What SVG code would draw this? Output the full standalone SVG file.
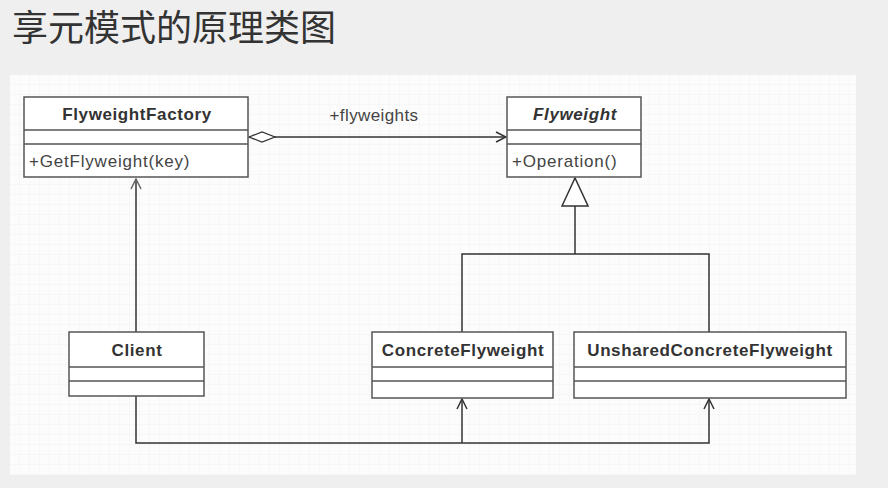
<svg xmlns="http://www.w3.org/2000/svg" width="888" height="488" viewBox="0 0 888 488">
<defs>
<pattern id="grid" width="10" height="10" patternUnits="userSpaceOnUse" x="10" y="75">
<path d="M10 0V10M0 10H10" fill="none" stroke="#f1f3f1" stroke-width="1"/>
</pattern>
<marker id="open" viewBox="0 0 12 12" refX="11" refY="6" markerWidth="12" markerHeight="12" markerUnits="userSpaceOnUse" orient="auto">
<path d="M1 1L11 6L1 11" fill="none" stroke="#333" stroke-width="1.5"/>
</marker>
<marker id="openGray" viewBox="0 0 12 12" refX="11" refY="6" markerWidth="12" markerHeight="12" markerUnits="userSpaceOnUse" orient="auto">
<path d="M1 1L11 6L1 11" fill="none" stroke="#666" stroke-width="1.5"/>
</marker>
<marker id="diamond" viewBox="0 0 28 12" refX="1" refY="6" markerWidth="28" markerHeight="12" markerUnits="userSpaceOnUse" orient="auto">
<path d="M1 6L14 1L27 6L14 11Z" fill="#fff" stroke="#333" stroke-width="1.3"/>
</marker>
<marker id="tri" viewBox="0 0 30 28" refX="29" refY="14" markerWidth="30" markerHeight="28" markerUnits="userSpaceOnUse" orient="auto">
<path d="M1 1L29 14L1 27Z" fill="#fff" stroke="#333" stroke-width="1.5"/>
</marker>
</defs>
<style>
.box{fill:#fff;stroke:#555;stroke-width:1.5}
.sep{stroke:#555;stroke-width:1.5}
.name{font-family:"Liberation Sans",Arial,sans-serif;font-size:17px;font-weight:bold;fill:#333;text-anchor:middle;letter-spacing:0.6px}
.op{font-family:"Liberation Sans",Arial,sans-serif;font-size:17px;fill:#444;letter-spacing:0.8px}
.lbl{font-family:"Liberation Sans",Arial,sans-serif;font-size:17px;fill:#444;text-anchor:middle;letter-spacing:0.4px}
.edge{fill:none;stroke:#333;stroke-width:1.5}
</style>
<rect width="888" height="488" fill="#efefef"/>
<rect x="10" y="75" width="846" height="400" fill="#fcfcfc"/>
<rect x="10" y="75" width="846" height="400" fill="url(#grid)"/>
<text x="12" y="41" font-family="'Noto Sans CJK SC',sans-serif" font-size="36" fill="#333">享元模式的原理类图</text>

<g id="connectors">
<path class="edge" d="M249 137H506" marker-start="url(#diamond)" marker-end="url(#open)"/>
<text class="lbl" x="374" y="121">+flyweights</text>
<path class="edge" d="M575 254V178" marker-end="url(#tri)"/>
<path class="edge" d="M462 332V254H709V332"/>
<path class="edge" d="M136 332V179" stroke="#666" marker-end="url(#openGray)"/>
<path class="edge" d="M136 396V443H709V399" marker-end="url(#open)"/>
<path class="edge" d="M462 443V399" marker-end="url(#open)"/>
</g>

<g id="FlyweightFactory">
<rect class="box" x="24" y="97" width="224" height="80"/>
<line class="sep" x1="24" y1="130" x2="248" y2="130"/>
<line class="sep" x1="24" y1="144" x2="248" y2="144"/>
<text class="name" x="137" y="120">FlyweightFactory</text>
<text class="op" x="29" y="167">+GetFlyweight(key)</text>
</g>

<g id="Flyweight">
<rect class="box" x="507" y="97" width="134" height="80"/>
<line class="sep" x1="507" y1="130" x2="641" y2="130"/>
<line class="sep" x1="507" y1="144" x2="641" y2="144"/>
<text class="name" x="575" y="120" font-style="italic">Flyweight</text>
<text class="op" x="512" y="167">+Operation()</text>
</g>

<g id="Client">
<rect class="box" x="69" y="332" width="135" height="64"/>
<line class="sep" x1="69" y1="367" x2="204" y2="367"/>
<line class="sep" x1="69" y1="381" x2="204" y2="381"/>
<text class="name" x="137" y="356">Client</text>
</g>

<g id="ConcreteFlyweight">
<rect class="box" x="372" y="332" width="181" height="66"/>
<line class="sep" x1="372" y1="367" x2="553" y2="367"/>
<line class="sep" x1="372" y1="381" x2="553" y2="381"/>
<text class="name" x="463" y="356">ConcreteFlyweight</text>
</g>

<g id="UnsharedConcreteFlyweight">
<rect class="box" x="574" y="332" width="272" height="66"/>
<line class="sep" x1="574" y1="367" x2="846" y2="367"/>
<line class="sep" x1="574" y1="381" x2="846" y2="381"/>
<text class="name" x="710" y="356">UnsharedConcreteFlyweight</text>
</g>
</svg>
